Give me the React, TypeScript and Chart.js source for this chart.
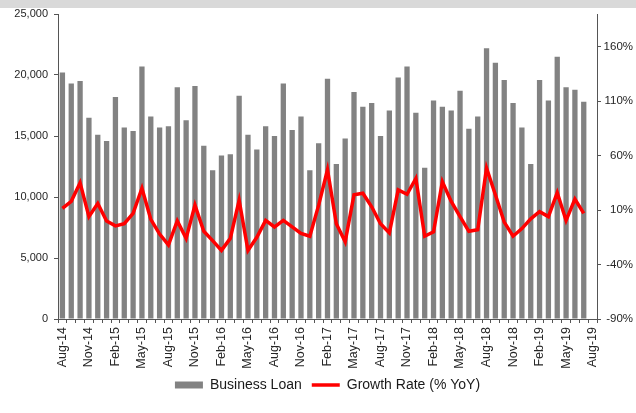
import React, { useEffect, useRef } from "react";
import { Chart, registerables } from "chart.js";

Chart.register(...registerables);

const months: string[] = [
  "Aug-14", "Sep-14", "Oct-14", "Nov-14", "Dec-14", "Jan-15", "Feb-15", "Mar-15", "Apr-15", "May-15", "Jun-15", "Jul-15",
  "Aug-15", "Sep-15", "Oct-15", "Nov-15", "Dec-15", "Jan-16", "Feb-16", "Mar-16", "Apr-16", "May-16", "Jun-16", "Jul-16",
  "Aug-16", "Sep-16", "Oct-16", "Nov-16", "Dec-16", "Jan-17", "Feb-17", "Mar-17", "Apr-17", "May-17", "Jun-17", "Jul-17",
  "Aug-17", "Sep-17", "Oct-17", "Nov-17", "Dec-17", "Jan-18", "Feb-18", "Mar-18", "Apr-18", "May-18", "Jun-18", "Jul-18",
  "Aug-18", "Sep-18", "Oct-18", "Nov-18", "Dec-18", "Jan-19", "Feb-19", "Mar-19", "Apr-19", "May-19", "Jun-19", "Jul-19",
  "Aug-19",
];

const businessLoan: (number | null)[] = [
  20200, 19300, 19500, 16500, 15100, 14600, 18200, 15700, 15400, 20700, 16600, 15700,
  15800, 19000, 16300, 19100, 14200, 12200, 13400, 13500, 18300, 15100, 13900, 15800,
  15000, 19300, 15500, 16600, 12200, 14400, 19700, 12700, 14800, 18600, 17400, 17700,
  15000, 17100, 19800, 20700, 16900, 12400, 17900, 17400, 17100, 18700, 15600, 16600,
  22200, 21000, 19600, 17700, 15700, 12700, 19600, 17900, 21500, 19000, 18800, 17800,
  null,
];

const growthRate: (number | null)[] = [
  11.5, 18, 35, 4, 16, 0, -4.5, -2.5, 7, 30, 1.5, -12,
  -22, 0, -16, 14.5, -9.5, -18, -27, -16, 19, -27, -15, 0.5,
  -5.5, 0.5, -5.5, -11.5, -14, 14.5, 47, -2.5, -19, 24, 25.5, 13,
  -2.5, -11, 28.5, 24.5, 39, -14, -10, 36, 18, 4, -9.5, -8,
  48.5, 24, -1, -14, -7, 2, 8.5, 4, 26, 0.5, 20, 7,
  null,
];

const leftTicks: number[] = [0, 5000, 10000, 15000, 20000, 25000];
const rightTicks: number[] = [-90, -40, 10, 60, 110, 160];

const FONT = "'Liberation Sans', Arial, sans-serif";

export default function App() {
  const ref = useRef<HTMLCanvasElement | null>(null);

  useEffect(() => {
    if (!ref.current) return;
    const chart = new Chart(ref.current, {
      type: "bar",
      data: {
        labels: months,
        datasets: [
          {
            type: "bar",
            label: "Business Loan",
            data: businessLoan,
            backgroundColor: "#828282",
            borderWidth: 0,
            barPercentage: 0.6,
            categoryPercentage: 1.0,
            yAxisID: "y",
            order: 2,
          },
          {
            type: "line",
            label: "Growth Rate (% YoY)",
            data: growthRate,
            borderColor: "#ff0000",
            backgroundColor: "#ff0000",
            borderWidth: 3.5,
            pointRadius: 0,
            tension: 0,
            yAxisID: "y1",
            order: 1,
          },
        ],
      },
      options: {
        animation: false,
        responsive: false,
        maintainAspectRatio: false,
        layout: { padding: { top: 14, right: 3, bottom: 11, left: 0 } },
        plugins: {
          tooltip: { enabled: false },
          legend: {
            position: "bottom",
            fullSize: false,
            labels: {
              usePointStyle: true,
              pointStyleWidth: 28,
              boxWidth: 28,
              boxHeight: 7,
              padding: 10,
              color: "#1a1a1a",
              font: { family: FONT, size: 14 },
              sort: (a: any, b: any) => a.datasetIndex - b.datasetIndex,
              generateLabels: (c: any) => {
                const items = (Chart.defaults.plugins.legend.labels as any).generateLabels(c);
                return items.map((it: any) => {
                  if (it.datasetIndex === 0) {
                    return { ...it, pointStyle: "rect", fillStyle: "#828282", strokeStyle: "#828282", lineWidth: 0 };
                  }
                  return { ...it, pointStyle: "line", strokeStyle: "#ff0000", fillStyle: "#ff0000", lineWidth: 3.5 };
                });
              },
            },
          },
        },
        scales: {
          x: {
            type: "category",
            offset: true,
            afterFit: (s: any) => {
              s.height = 49;
            },
            grid: {
              display: true,
              drawOnChartArea: false,
              offset: true,
              tickLength: 4,
              color: "#555555",
            },
            border: { display: true, color: "#555555", width: 1 },
            ticks: {
              autoSkip: false,
              maxRotation: 90,
              minRotation: 90,
              padding: 4,
              color: "#262626",
              font: { family: FONT, size: 12.5 },
              callback: (_v: any, i: number) => (i % 3 === 0 ? months[i] : ""),
            },
          },
          y: {
            position: "left",
            min: 0,
            max: 25000,
            afterFit: (s: any) => {
              s.width = 58;
            },
            afterBuildTicks: (s: any) => {
              s.ticks = leftTicks.map((v) => ({ value: v }));
            },
            grid: { display: true, drawOnChartArea: false, tickLength: 4, color: "#555555" },
            border: { display: true, color: "#555555", width: 1 },
            ticks: {
              padding: 6,
              color: "#262626",
              font: { family: FONT, size: 11 },
              callback: (v: any) => Number(v).toLocaleString("en-US"),
            },
          },
          y1: {
            position: "right",
            min: -90,
            max: 190,
            afterFit: (s: any) => {
              s.width = 36;
            },
            afterBuildTicks: (s: any) => {
              s.ticks = rightTicks.map((v) => ({ value: v }));
            },
            grid: { display: true, drawOnChartArea: false, tickLength: 4, color: "#555555" },
            border: { display: true, color: "#555555", width: 1 },
            ticks: {
              padding: 4,
              crossAlign: "far",
              color: "#262626",
              font: { family: FONT, size: 11.5 },
              callback: (v: any) => `${v}%`,
            },
          },
        },
      },
    } as any);
    return () => chart.destroy();
  }, []);

  return (
    <div style={{ position: "fixed", left: 0, top: 0, width: 636, height: 413, background: "#ffffff" }}>
      <div style={{ position: "absolute", left: 0, top: 0, width: 636, height: 8, background: "#d9d9d9" }} />
      <canvas
        ref={ref}
        width={636}
        height={413}
        style={{ position: "absolute", left: 0, top: 0, width: 636, height: 413 }}
      />
    </div>
  );
}
